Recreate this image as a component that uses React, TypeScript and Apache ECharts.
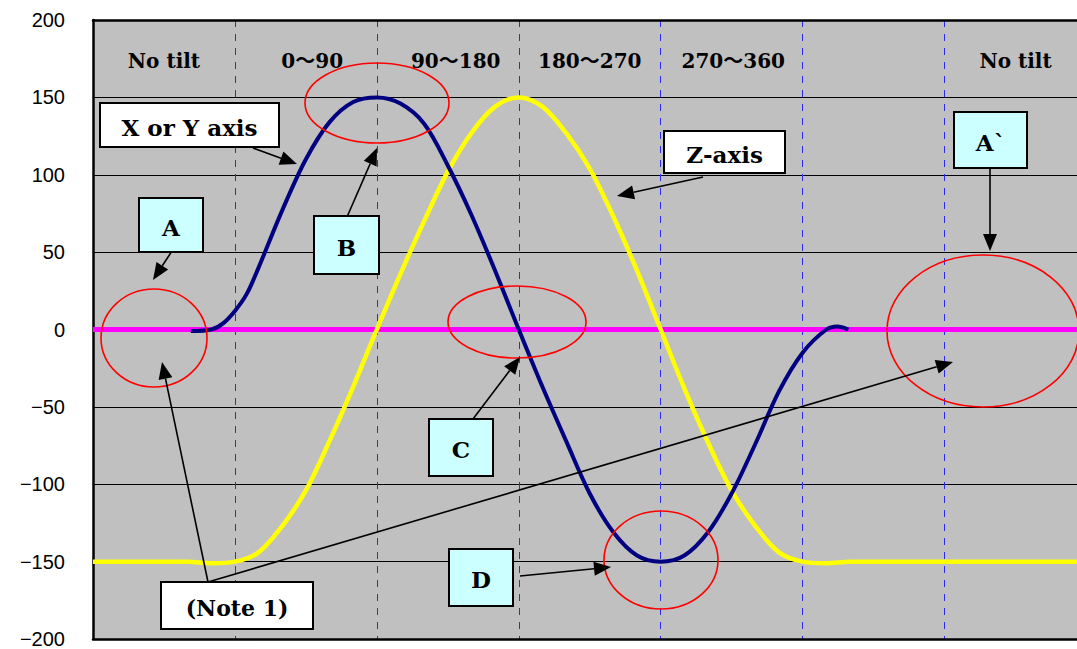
import React, { useEffect, useRef } from "react";
import * as echarts from "echarts";

// Section labels along the horizontal axis (degrees, one section = 90)
const sectionLabels = ["No tilt", "0～90", "90～180", "180～270", "270～360", "", "No tilt"];
const sectionCenters = [-45, 49, 140, 225, 316, 405, 495];

// "X or Y axis" curve (blue)
const xyAxisX = [-28, -15, -7.5, 0, 7.5, 15, 30, 45, 60, 75, 90, 105, 120, 135, 150, 165, 180, 195, 210, 225, 240, 255, 270, 285, 300, 315, 330, 345, 360, 375, 382, 389];
const xyAxisY = [-1, 0, 4, 12, 23, 40, 77, 110, 134, 147, 150, 146, 133, 106, 74, 38, 0, -37, -72, -106, -131, -146, -150, -146, -131, -106, -74, -40, -15, 0, 2, 0];

// "Z-axis" curve (yellow)
const zAxisX = [-90, -30, -15, 0, 15, 30, 45, 60, 75, 90, 105, 120, 135, 150, 165, 180, 195, 210, 225, 240, 255, 270, 285, 300, 315, 330, 345, 360, 375, 390, 534];
const zAxisY = [-150, -150, -151, -150, -144, -127, -104, -72, -37, 0, 36, 70, 102, 127, 144, 150, 144, 127, 104, 73, 38, 0, -38, -73, -104, -127, -144, -150, -151, -150, -150];

// Reference line (magenta)
const refX = [-90, 534];
const refY = [0, 0];

const yTicks = { min: -200, max: 200, interval: 50 };
const xRange = { min: -90, max: 534, interval: 90 };

const SERIF = "'DejaVu Serif', 'Noto Sans CJK JP', serif";

function zip(xs: number[], ys: number[]) {
  return xs.map((x, i) => [x, ys[i]]);
}

function arrow(x1: number, y1: number, x2: number, y2: number) {
  const dx = x2 - x1;
  const dy = y2 - y1;
  const len = Math.sqrt(dx * dx + dy * dy);
  const ux = dx / len;
  const uy = dy / len;
  const L = 17;
  const W = 14;
  const bx = x2 - ux * L;
  const by = y2 - uy * L;
  return [
    {
      type: "line",
      shape: { x1, y1, x2: bx, y2: by },
      style: { stroke: "#000", lineWidth: 1.6 },
      z: 100,
    },
    {
      type: "polygon",
      shape: {
        points: [
          [x2, y2],
          [bx - (uy * W) / 2, by + (ux * W) / 2],
          [bx + (uy * W) / 2, by - (ux * W) / 2],
        ],
      },
      style: { fill: "#000" },
      z: 100,
    },
  ];
}

function box(x: number, y: number, w: number, h: number, text: string, fill: string, fontSize = 22) {
  return [
    {
      type: "rect",
      shape: { x, y, width: w, height: h },
      style: { fill, stroke: "#000", lineWidth: 2 },
      z: 101,
    },
    {
      type: "text",
      x: x + w / 2,
      y: y + h / 2 + 2,
      style: {
        text,
        font: `bold ${fontSize}px ${SERIF}`,
        fill: "#000",
        align: "center",
        verticalAlign: "middle",
        textAlign: "center",
        textVerticalAlign: "middle",
      },
      z: 102,
    },
  ];
}

function ellipse(cx: number, cy: number, rx: number, ry: number) {
  return {
    type: "ellipse",
    shape: { cx, cy, rx, ry },
    style: { fill: "transparent", stroke: "#ff0000", lineWidth: 1.6 },
    z: 99,
  };
}

export default function App() {
  const ref = useRef<HTMLDivElement>(null);

  useEffect(() => {
    if (!ref.current) return;
    const chart = echarts.init(ref.current, undefined, { renderer: "svg" });

    const option: any = {
      animation: false,
      backgroundColor: "#ffffff",
      grid: {
        left: 93,
        right: 0,
        top: 20,
        bottom: 9,
        show: true,
        backgroundColor: "#c0c0c0",
        borderWidth: 0,
      },
      xAxis: [
        {
          type: "value",
          min: xRange.min,
          max: xRange.max,
          interval: xRange.interval,
          axisLine: { show: true, onZero: false, lineStyle: { color: "#000", width: 2.5 } },
          axisTick: { show: false },
          axisLabel: { show: false },
          splitLine: {
            show: true,
            lineStyle: { color: "#2a2af0", width: 1, type: [7, 7] },
          },
        },
        {
          type: "value",
          position: "top",
          min: xRange.min,
          max: xRange.max,
          interval: xRange.interval,
          axisLine: { show: true, onZero: false, lineStyle: { color: "#000", width: 2.5 } },
          axisTick: { show: false },
          axisLabel: { show: false },
          splitLine: { show: false },
        },
      ],
      yAxis: {
        type: "value",
        min: yTicks.min,
        max: yTicks.max,
        interval: yTicks.interval,
        axisLine: { show: true, onZero: false, lineStyle: { color: "#000", width: 2.5 } },
        axisTick: { show: false },
        axisLabel: {
          color: "#000",
          fontSize: 20,
          fontFamily: "'Liberation Sans', Arial, sans-serif",
          margin: 28,
          formatter: (v: number) => String(v).replace("-", "−"),
        },
        splitLine: { show: true, lineStyle: { color: "#000", width: 1 } },
      },
      series: [
        {
          name: "Reference",
          type: "line",
          data: zip(refX, refY),
          symbol: "none",
          lineStyle: { color: "#ff00ff", width: 5 },
          z: 2,
        },
        {
          name: "Z-axis",
          type: "line",
          data: zip(zAxisX, zAxisY),
          symbol: "none",
          smooth: 0.33,
          lineStyle: { color: "#ffff00", width: 4.5 },
          z: 3,
        },
        {
          name: "X or Y axis",
          type: "line",
          data: zip(xyAxisX, xyAxisY),
          symbol: "none",
          smooth: 0.33,
          lineStyle: { color: "#000080", width: 4 },
          z: 4,
        },
      ],
    };
    chart.setOption(option);

    const graphics: any[] = [];
    sectionLabels.forEach((t, i) => {
      if (!t) return;
      const p = chart.convertToPixel({ gridIndex: 0 }, [sectionCenters[i], 0]) as number[];
      graphics.push({
        type: "text",
        x: p[0],
        y: 61,
        style: {
          text: t,
          font: `bold 20px ${SERIF}`,
          fill: "#000",
          align: "center",
          verticalAlign: "middle",
          textAlign: "center",
          textVerticalAlign: "middle",
        },
        z: 50,
      });
    });

    graphics.push(ellipse(154, 338, 53, 49));
    graphics.push(ellipse(377, 103, 72, 40));
    graphics.push(ellipse(517, 322, 69, 36));
    graphics.push(ellipse(661, 560, 57, 49));
    graphics.push(ellipse(983, 331, 96, 76));

    graphics.push(...arrow(253, 148, 297, 164));
    graphics.push(...arrow(703, 177, 617, 196));
    graphics.push(...arrow(172, 251, 153, 280));
    graphics.push(...arrow(347, 217, 377, 148));
    graphics.push(...arrow(473, 419, 520, 357));
    graphics.push(...arrow(520, 576, 611, 567));
    graphics.push(...arrow(990, 168, 990, 251));
    graphics.push(...arrow(208, 582, 162, 362));
    graphics.push(...arrow(208, 582, 953, 362));

    graphics.push(...box(100, 103, 179, 44, "X or Y axis", "#ffffff", 23));
    graphics.push(...box(664, 131, 121, 42, "Z-axis", "#ffffff", 23));
    graphics.push(...box(139, 198, 64, 54, "A", "#ccffff", 23));
    graphics.push(...box(314, 216, 65, 58, "B", "#ccffff", 23));
    graphics.push(...box(429, 419, 64, 57, "C", "#ccffff", 23));
    graphics.push(...box(449, 549, 64, 57, "D", "#ccffff", 23));
    graphics.push(...box(954, 112, 73, 56, "A`", "#ccffff", 23));
    graphics.push(...box(161, 582, 152, 47, "(Note 1)", "#ffffff", 22));

    chart.setOption({ graphic: { elements: graphics } });

    return () => {
      chart.dispose();
    };
  }, []);

  return (
    <div
      ref={ref}
      style={{ position: "fixed", left: 0, top: 0, width: 1077, height: 649 }}
    />
  );
}
